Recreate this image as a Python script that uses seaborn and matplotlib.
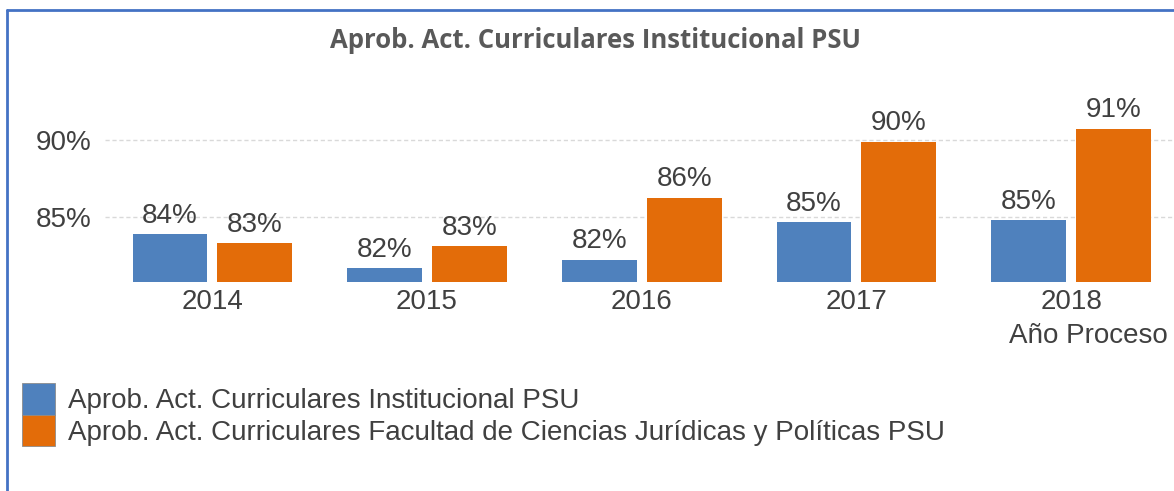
import matplotlib
matplotlib.use("Agg")
import matplotlib.pyplot as plt
import seaborn as sns
import pandas as pd
from matplotlib.lines import Line2D

years = ["2014", "2015", "2016", "2017", "2018"]
series_names = [
    "Aprob. Act. Curriculares Institucional PSU",
    "Aprob. Act. Curriculares Facultad de Ciencias Jurídicas y Políticas PSU",
]
inst_values = [83.84, 81.62, 82.17, 84.65, 84.76]
fac_values = [83.27, 83.07, 86.23, 89.91, 90.78]
ytick_values = [85, 90]
title = "Aprob. Act. Curriculares Institucional PSU"
xlabel = "Año Proceso"

colors = ["#4F81BD", "#E36C09"]

df = pd.DataFrame({
    "year": years * 2,
    "serie": [series_names[0]] * len(years) + [series_names[1]] * len(years),
    "value": inst_values + fac_values,
})

sns.set_theme(style="white")
plt.rcParams["font.family"] = ["Liberation Sans", "DejaVu Sans"]

fs = 20
fig = plt.figure(figsize=(11.74, 4.91), dpi=100)
ax = fig.add_axes([105 / 1174, 1 - 282 / 491, 1 - 105 / 1174, (282 - 110) / 491])

sns.barplot(data=df, x="year", y="value", hue="serie", palette=colors,
            width=0.79, gap=0.117, ax=ax, saturation=1, edgecolor="none")

ax.set_ylim(80.72, 92.0)
ax.set_xlim(-0.5, 4.479)
ax.set_yticks(ytick_values)
ax.set_yticklabels([f"{v}%" for v in ytick_values])
ax.yaxis.grid(True, color="#D9D9D9", linestyle=(0, (3, 2)), linewidth=1)
ax.set_axisbelow(True)
for s in ax.spines.values():
    s.set_visible(False)
ax.tick_params(axis="both", length=0, labelsize=fs, colors="#404040")
ax.tick_params(axis="y", pad=10)
ax.tick_params(axis="x", pad=5)
ax.set_xlabel("")
ax.set_ylabel("")

for cont in ax.containers:
    labels = [f"{round(b.get_height())}%" for b in cont]
    ax.bar_label(cont, labels=labels, padding=4, fontsize=fs, color="#404040")

# axis title under last category
ax.text(1.0 - 6 / 1069, -0.24, xlabel, transform=ax.transAxes, ha="right",
        va="top", fontsize=fs, color="#404040")

fig.text(595 / 1174, 1 - 41 / 491, title, ha="center", va="center", fontsize=18.5,
         fontweight="bold", color="#595959", family=["Open Sans", "DejaVu Sans"])

leg = ax.get_legend()
handles = leg.legend_handles
leg.remove()
for h in handles:
    h.set_edgecolor("#8C8C8C")
    h.set_linewidth(0.6)
fig.legend(handles, series_names, loc="upper left",
           bbox_to_anchor=(22 / 1174, 1 - 383 / 491), frameon=False,
           fontsize=fs, labelcolor="#404040", handlelength=1.2,
           handleheight=1.37, labelspacing=0.0, handletextpad=0.45,
           borderaxespad=0, borderpad=0)

# chart border (left and top visible)
fig.add_artist(Line2D([7 / 1174, 7 / 1174], [0, 1 - 10 / 491],
                      transform=fig.transFigure, color="#4472C4", linewidth=2))
fig.add_artist(Line2D([7 / 1174, 1], [1 - 10 / 491, 1 - 10 / 491],
                      transform=fig.transFigure, color="#4472C4", linewidth=2))

fig.savefig("out.png", dpi=100)
